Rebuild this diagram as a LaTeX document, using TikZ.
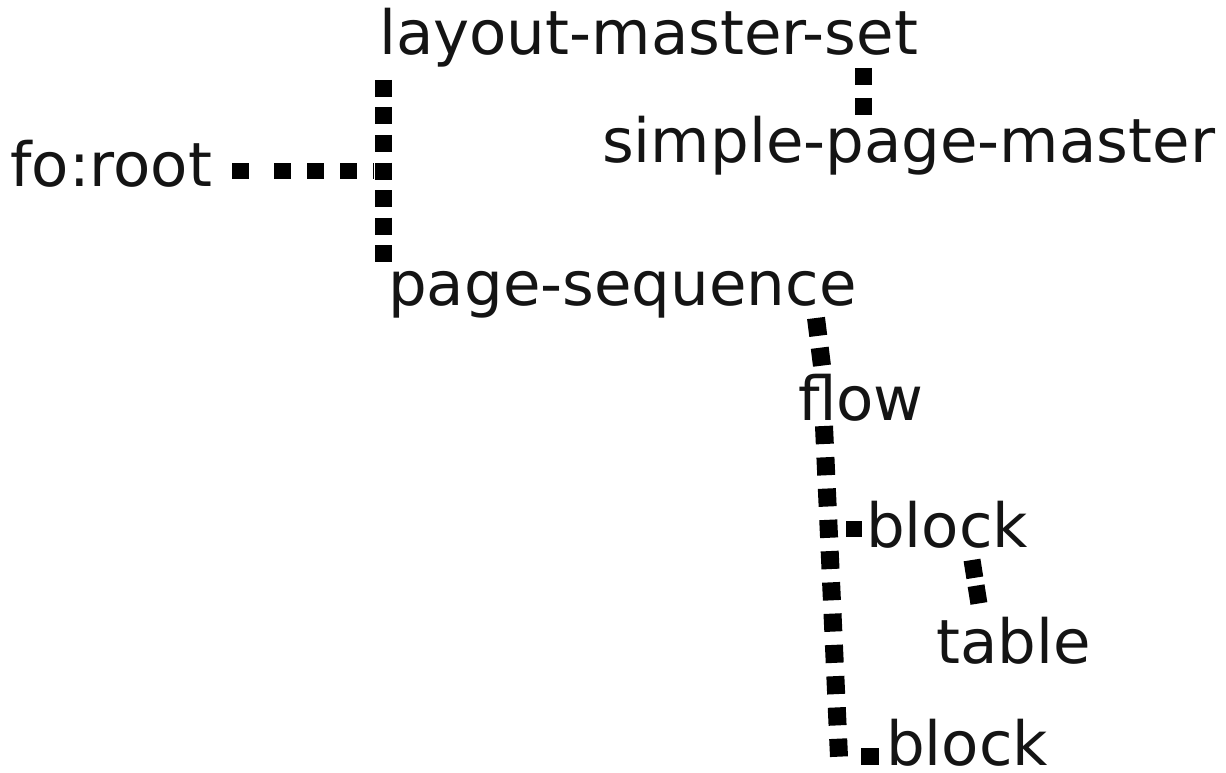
\documentclass[tikz,border=0pt]{standalone}
\usepackage{fontspec}
\setmainfont{DejaVu Sans}
\begin{document}
\begin{tikzpicture}[x=1pt,y=-1pt,
  lbl/.style={anchor=base west,inner sep=0pt,text=black!92,font=\fontsize{61}{72}\selectfont},
  conn/.style={line width=18pt,dash pattern=on 18pt off 12pt}]
\useasboundingbox (0,0) rectangle (1226,773);

% labels
\node[lbl] (root)   at (10,186)  {fo:root};
\node[lbl] (lms)    at (379,55)  {layout-master-set};
\node[lbl] (spm)    at (602,162) {simple-page-master};
\node[lbl] (ps)     at (388,305) {page-sequence};
\node[lbl] (flow)   at (798,420) {flow};
\node[lbl] (block1) at (866,547) {block};
\node[lbl] (table)  at (936,663) {table};
\node[lbl] (block2) at (886,765) {block};

% connector end points
\coordinate (rootR)  at (232,171);
\coordinate (trunkJ) at (374,171);
\coordinate (tTop)   at (383,80);
\coordinate (tBot)   at (383,262);
\coordinate (lmsB)   at (863,68);
\coordinate (spmT)   at (863,115);
\coordinate (psB)    at (816,318);
\coordinate (flowT)  at (822,366);
\coordinate (flowB)  at (824,426);
\coordinate (fBot)   at (839,757);
\coordinate (b1a)    at (846,529);
\coordinate (b1b)    at (862,529);
\coordinate (b1B)    at (972,560);
\coordinate (tabT)   at (979,604);
\coordinate (b2a)    at (861,756);
\coordinate (b2b)    at (879,756);

% connectors
\draw[line width=16pt,dash pattern=on 17pt off 25pt on 17pt off 16pt on 17pt off 16pt on 17pt off 16pt] (rootR) -- (trunkJ);
\draw[line width=17pt,dash pattern=on 17pt off 10.5pt] (tTop) -- (tBot);
\draw[line width=17pt,dash pattern=on 17pt off 13pt] (lmsB) -- (spmT);
\draw[conn] (psB) -- (flowT);
\draw[line width=18pt,dash pattern=on 18pt off 13.3pt] (flowB) -- (fBot);
\draw[line width=16pt] (b1a) -- (b1b);
\draw[line width=17pt,dash pattern=on 18pt off 8pt] (b1B) -- (tabT);
\draw[line width=17pt] (b2a) -- (b2b);
\end{tikzpicture}
\end{document}
